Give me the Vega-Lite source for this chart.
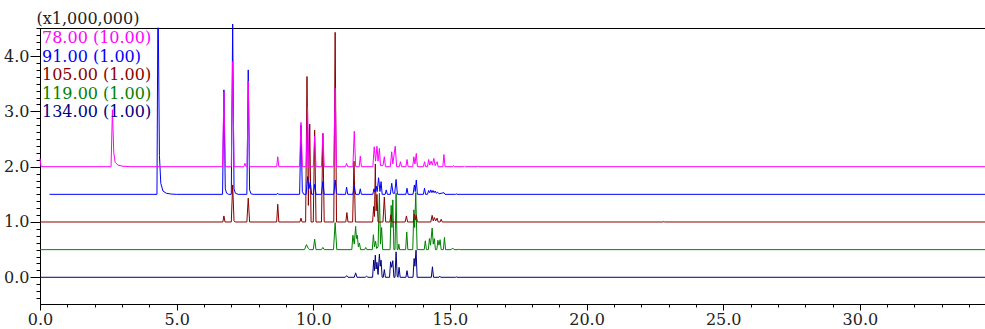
{
"$schema": "https://vega.github.io/schema/vega-lite/v6.json",
"width": 945, "height": 276,
"autosize": {"type": "none"},
"padding": {"left": 40, "top": 28, "right": 0, "bottom": 25},
"background": "white",
"config": {"view": {"stroke": "#000", "strokeWidth": 1}, "font": "DejaVu Serif"},
"data": {"values": [
{"trace":"134.00 (1.00)","t":0,"v":0},{"trace":"134.00 (1.00)","t":11.17,"v":0},{"trace":"134.00 (1.00)","t":11.22,"v":0.03},{"trace":"134.00 (1.00)","t":11.27,"v":0},{"trace":"134.00 (1.00)","t":11.5,"v":0},{"trace":"134.00 (1.00)","t":11.55,"v":0.08},{"trace":"134.00 (1.00)","t":11.6,"v":0},{"trace":"134.00 (1.00)","t":11.9,"v":0},{"trace":"134.00 (1.00)","t":11.95,"v":0.02},{"trace":"134.00 (1.00)","t":12.0,"v":0},{"trace":"134.00 (1.00)","t":12.17,"v":0},{"trace":"134.00 (1.00)","t":12.21,"v":0.31},{"trace":"134.00 (1.00)","t":12.24,"v":0.12},{"trace":"134.00 (1.00)","t":12.27,"v":0.4},{"trace":"134.00 (1.00)","t":12.3,"v":0.15},{"trace":"134.00 (1.00)","t":12.33,"v":0.27},{"trace":"134.00 (1.00)","t":12.37,"v":0.05},{"trace":"134.00 (1.00)","t":12.42,"v":0.42},{"trace":"134.00 (1.00)","t":12.45,"v":0.2},{"trace":"134.00 (1.00)","t":12.48,"v":0.31},{"trace":"134.00 (1.00)","t":12.52,"v":0},{"trace":"134.00 (1.00)","t":12.56,"v":0},{"trace":"134.00 (1.00)","t":12.6,"v":0.14},{"trace":"134.00 (1.00)","t":12.64,"v":0},{"trace":"134.00 (1.00)","t":12.79,"v":0},{"trace":"134.00 (1.00)","t":12.83,"v":0.28},{"trace":"134.00 (1.00)","t":12.87,"v":0.18},{"trace":"134.00 (1.00)","t":12.91,"v":0.3},{"trace":"134.00 (1.00)","t":12.95,"v":0},{"trace":"134.00 (1.00)","t":12.99,"v":0},{"trace":"134.00 (1.00)","t":13.03,"v":0.46},{"trace":"134.00 (1.00)","t":13.07,"v":0.02},{"trace":"134.00 (1.00)","t":13.1,"v":0},{"trace":"134.00 (1.00)","t":13.14,"v":0.18},{"trace":"134.00 (1.00)","t":13.18,"v":0},{"trace":"134.00 (1.00)","t":13.39,"v":0},{"trace":"134.00 (1.00)","t":13.43,"v":0.12},{"trace":"134.00 (1.00)","t":13.47,"v":0},{"trace":"134.00 (1.00)","t":13.65,"v":0},{"trace":"134.00 (1.00)","t":13.69,"v":0.34},{"trace":"134.00 (1.00)","t":13.72,"v":0.2},{"trace":"134.00 (1.00)","t":13.76,"v":0.49},{"trace":"134.00 (1.00)","t":13.8,"v":0},{"trace":"134.00 (1.00)","t":14.32,"v":0},{"trace":"134.00 (1.00)","t":14.36,"v":0.19},{"trace":"134.00 (1.00)","t":14.4,"v":0},{"trace":"134.00 (1.00)","t":14.6,"v":0},{"trace":"134.00 (1.00)","t":14.63,"v":0.02},{"trace":"134.00 (1.00)","t":14.66,"v":0},{"trace":"134.00 (1.00)","t":15.2,"v":0},{"trace":"134.00 (1.00)","t":15.23,"v":0.01},{"trace":"134.00 (1.00)","t":15.26,"v":0},{"trace":"134.00 (1.00)","t":34.6,"v":0},

{"trace":"119.00 (1.00)","t":0,"v":0.5},{"trace":"119.00 (1.00)","t":9.68,"v":0.5},{"trace":"119.00 (1.00)","t":9.75,"v":0.59},{"trace":"119.00 (1.00)","t":9.82,"v":0.52},{"trace":"119.00 (1.00)","t":9.87,"v":0.5},{"trace":"119.00 (1.00)","t":10.0,"v":0.5},{"trace":"119.00 (1.00)","t":10.05,"v":0.69},{"trace":"119.00 (1.00)","t":10.1,"v":0.5},{"trace":"119.00 (1.00)","t":10.3,"v":0.5},{"trace":"119.00 (1.00)","t":10.35,"v":0.54},{"trace":"119.00 (1.00)","t":10.4,"v":0.5},{"trace":"119.00 (1.00)","t":10.74,"v":0.5},{"trace":"119.00 (1.00)","t":10.8,"v":0.99},{"trace":"119.00 (1.00)","t":10.86,"v":0.5},{"trace":"119.00 (1.00)","t":11.41,"v":0.5},{"trace":"119.00 (1.00)","t":11.45,"v":0.76},{"trace":"119.00 (1.00)","t":11.5,"v":0.6},{"trace":"119.00 (1.00)","t":11.55,"v":0.92},{"trace":"119.00 (1.00)","t":11.58,"v":0.7},{"trace":"119.00 (1.00)","t":11.61,"v":0.76},{"trace":"119.00 (1.00)","t":11.65,"v":0.55},{"trace":"119.00 (1.00)","t":11.69,"v":0.62},{"trace":"119.00 (1.00)","t":11.73,"v":0.5},{"trace":"119.00 (1.00)","t":11.88,"v":0.5},{"trace":"119.00 (1.00)","t":11.92,"v":0.54},{"trace":"119.00 (1.00)","t":11.96,"v":0.5},{"trace":"119.00 (1.00)","t":12.16,"v":0.5},{"trace":"119.00 (1.00)","t":12.2,"v":0.77},{"trace":"119.00 (1.00)","t":12.24,"v":0.55},{"trace":"119.00 (1.00)","t":12.28,"v":0.65},{"trace":"119.00 (1.00)","t":12.32,"v":0.52},{"trace":"119.00 (1.00)","t":12.37,"v":0.55},{"trace":"119.00 (1.00)","t":12.42,"v":1.52},{"trace":"119.00 (1.00)","t":12.46,"v":0.6},{"trace":"119.00 (1.00)","t":12.5,"v":0.9},{"trace":"119.00 (1.00)","t":12.54,"v":0.5},{"trace":"119.00 (1.00)","t":12.81,"v":0.5},{"trace":"119.00 (1.00)","t":12.85,"v":1.3},{"trace":"119.00 (1.00)","t":12.88,"v":0.9},{"trace":"119.00 (1.00)","t":12.91,"v":1.4},{"trace":"119.00 (1.00)","t":12.95,"v":0.5},{"trace":"119.00 (1.00)","t":12.99,"v":0.5},{"trace":"119.00 (1.00)","t":13.03,"v":1.52},{"trace":"119.00 (1.00)","t":13.07,"v":0.5},{"trace":"119.00 (1.00)","t":13.1,"v":0.5},{"trace":"119.00 (1.00)","t":13.13,"v":0.6},{"trace":"119.00 (1.00)","t":13.16,"v":0.5},{"trace":"119.00 (1.00)","t":13.38,"v":0.5},{"trace":"119.00 (1.00)","t":13.42,"v":0.82},{"trace":"119.00 (1.00)","t":13.46,"v":0.5},{"trace":"119.00 (1.00)","t":13.64,"v":0.5},{"trace":"119.00 (1.00)","t":13.68,"v":1.22},{"trace":"119.00 (1.00)","t":13.71,"v":0.9},{"trace":"119.00 (1.00)","t":13.75,"v":1.53},{"trace":"119.00 (1.00)","t":13.8,"v":0.5},{"trace":"119.00 (1.00)","t":14.06,"v":0.5},{"trace":"119.00 (1.00)","t":14.1,"v":0.66},{"trace":"119.00 (1.00)","t":14.14,"v":0.5},{"trace":"119.00 (1.00)","t":14.21,"v":0.5},{"trace":"119.00 (1.00)","t":14.25,"v":0.7},{"trace":"119.00 (1.00)","t":14.29,"v":0.58},{"trace":"119.00 (1.00)","t":14.35,"v":0.89},{"trace":"119.00 (1.00)","t":14.39,"v":0.6},{"trace":"119.00 (1.00)","t":14.43,"v":0.7},{"trace":"119.00 (1.00)","t":14.47,"v":0.5},{"trace":"119.00 (1.00)","t":14.52,"v":0.5},{"trace":"119.00 (1.00)","t":14.56,"v":0.67},{"trace":"119.00 (1.00)","t":14.6,"v":0.58},{"trace":"119.00 (1.00)","t":14.64,"v":0.68},{"trace":"119.00 (1.00)","t":14.68,"v":0.5},{"trace":"119.00 (1.00)","t":14.76,"v":0.5},{"trace":"119.00 (1.00)","t":14.8,"v":0.72},{"trace":"119.00 (1.00)","t":14.84,"v":0.5},{"trace":"119.00 (1.00)","t":15.05,"v":0.5},{"trace":"119.00 (1.00)","t":15.1,"v":0.53},{"trace":"119.00 (1.00)","t":15.15,"v":0.5},{"trace":"119.00 (1.00)","t":15.3,"v":0.5},{"trace":"119.00 (1.00)","t":15.33,"v":0.51},{"trace":"119.00 (1.00)","t":15.36,"v":0.5},{"trace":"119.00 (1.00)","t":34.6,"v":0.5},

{"trace":"105.00 (1.00)","t":0,"v":1.0},{"trace":"105.00 (1.00)","t":6.69,"v":1.0},{"trace":"105.00 (1.00)","t":6.73,"v":1.11},{"trace":"105.00 (1.00)","t":6.77,"v":1.0},{"trace":"105.00 (1.00)","t":7.0,"v":1.0},{"trace":"105.00 (1.00)","t":7.05,"v":1.67},{"trace":"105.00 (1.00)","t":7.1,"v":1.02},{"trace":"105.00 (1.00)","t":7.14,"v":1.0},{"trace":"105.00 (1.00)","t":7.57,"v":1.0},{"trace":"105.00 (1.00)","t":7.62,"v":1.43},{"trace":"105.00 (1.00)","t":7.67,"v":1.0},{"trace":"105.00 (1.00)","t":8.66,"v":1.0},{"trace":"105.00 (1.00)","t":8.7,"v":1.32},{"trace":"105.00 (1.00)","t":8.74,"v":1.0},{"trace":"105.00 (1.00)","t":9.51,"v":1.0},{"trace":"105.00 (1.00)","t":9.55,"v":1.07},{"trace":"105.00 (1.00)","t":9.59,"v":1.0},{"trace":"105.00 (1.00)","t":9.72,"v":1.0},{"trace":"105.00 (1.00)","t":9.77,"v":3.63},{"trace":"105.00 (1.00)","t":9.82,"v":1.3},{"trace":"105.00 (1.00)","t":9.87,"v":2.77},{"trace":"105.00 (1.00)","t":9.92,"v":1.0},{"trace":"105.00 (1.00)","t":10.0,"v":1.0},{"trace":"105.00 (1.00)","t":10.05,"v":2.66},{"trace":"105.00 (1.00)","t":10.1,"v":1.0},{"trace":"105.00 (1.00)","t":10.3,"v":1.0},{"trace":"105.00 (1.00)","t":10.35,"v":2.6},{"trace":"105.00 (1.00)","t":10.4,"v":1.0},{"trace":"105.00 (1.00)","t":10.75,"v":1.0},{"trace":"105.00 (1.00)","t":10.8,"v":4.43},{"trace":"105.00 (1.00)","t":10.85,"v":1.0},{"trace":"105.00 (1.00)","t":11.19,"v":1.0},{"trace":"105.00 (1.00)","t":11.23,"v":1.17},{"trace":"105.00 (1.00)","t":11.27,"v":1.0},{"trace":"105.00 (1.00)","t":11.44,"v":1.0},{"trace":"105.00 (1.00)","t":11.49,"v":2.1},{"trace":"105.00 (1.00)","t":11.54,"v":1.0},{"trace":"105.00 (1.00)","t":12.17,"v":1.0},{"trace":"105.00 (1.00)","t":12.21,"v":1.28},{"trace":"105.00 (1.00)","t":12.24,"v":1.1},{"trace":"105.00 (1.00)","t":12.27,"v":2.05},{"trace":"105.00 (1.00)","t":12.3,"v":1.2},{"trace":"105.00 (1.00)","t":12.33,"v":1.5},{"trace":"105.00 (1.00)","t":12.37,"v":1.0},{"trace":"105.00 (1.00)","t":12.55,"v":1.0},{"trace":"105.00 (1.00)","t":12.6,"v":1.45},{"trace":"105.00 (1.00)","t":12.65,"v":1.0},{"trace":"105.00 (1.00)","t":12.8,"v":1.0},{"trace":"105.00 (1.00)","t":12.84,"v":1.13},{"trace":"105.00 (1.00)","t":12.88,"v":1.0},{"trace":"105.00 (1.00)","t":13.36,"v":1.0},{"trace":"105.00 (1.00)","t":13.41,"v":1.11},{"trace":"105.00 (1.00)","t":13.45,"v":1.0},{"trace":"105.00 (1.00)","t":13.66,"v":1.0},{"trace":"105.00 (1.00)","t":13.7,"v":1.14},{"trace":"105.00 (1.00)","t":13.74,"v":1.04},{"trace":"105.00 (1.00)","t":13.77,"v":1.12},{"trace":"105.00 (1.00)","t":13.81,"v":1.0},{"trace":"105.00 (1.00)","t":14.3,"v":1.0},{"trace":"105.00 (1.00)","t":14.35,"v":1.12},{"trace":"105.00 (1.00)","t":14.39,"v":1.02},{"trace":"105.00 (1.00)","t":14.43,"v":1.08},{"trace":"105.00 (1.00)","t":14.48,"v":1.02},{"trace":"105.00 (1.00)","t":14.53,"v":1.07},{"trace":"105.00 (1.00)","t":14.57,"v":1.0},{"trace":"105.00 (1.00)","t":14.64,"v":1.0},{"trace":"105.00 (1.00)","t":14.68,"v":1.05},{"trace":"105.00 (1.00)","t":14.72,"v":1.0},{"trace":"105.00 (1.00)","t":22.8,"v":1.0},{"trace":"105.00 (1.00)","t":22.83,"v":1.01},{"trace":"105.00 (1.00)","t":22.86,"v":1.0},{"trace":"105.00 (1.00)","t":34.6,"v":1.0},

{"trace":"91.00 (1.00)","t":0.35,"v":1.5},{"trace":"91.00 (1.00)","t":4.28,"v":1.5},{"trace":"91.00 (1.00)","t":4.31,"v":4.51},{"trace":"91.00 (1.00)","t":4.33,"v":4.51},{"trace":"91.00 (1.00)","t":4.37,"v":2.2},{"trace":"91.00 (1.00)","t":4.42,"v":1.7},{"trace":"91.00 (1.00)","t":4.5,"v":1.56},{"trace":"91.00 (1.00)","t":4.62,"v":1.52},{"trace":"91.00 (1.00)","t":4.8,"v":1.505},{"trace":"91.00 (1.00)","t":5.0,"v":1.5},{"trace":"91.00 (1.00)","t":6.68,"v":1.5},{"trace":"91.00 (1.00)","t":6.73,"v":3.39},{"trace":"91.00 (1.00)","t":6.78,"v":1.6},{"trace":"91.00 (1.00)","t":6.83,"v":1.52},{"trace":"91.00 (1.00)","t":6.9,"v":1.5},{"trace":"91.00 (1.00)","t":7.0,"v":1.5},{"trace":"91.00 (1.00)","t":7.05,"v":4.58},{"trace":"91.00 (1.00)","t":7.1,"v":1.6},{"trace":"91.00 (1.00)","t":7.15,"v":1.52},{"trace":"91.00 (1.00)","t":7.25,"v":1.5},{"trace":"91.00 (1.00)","t":7.57,"v":1.5},{"trace":"91.00 (1.00)","t":7.62,"v":3.75},{"trace":"91.00 (1.00)","t":7.67,"v":1.58},{"trace":"91.00 (1.00)","t":7.72,"v":1.51},{"trace":"91.00 (1.00)","t":7.8,"v":1.5},{"trace":"91.00 (1.00)","t":8.67,"v":1.5},{"trace":"91.00 (1.00)","t":8.7,"v":1.52},{"trace":"91.00 (1.00)","t":8.73,"v":1.5},{"trace":"91.00 (1.00)","t":9.5,"v":1.5},{"trace":"91.00 (1.00)","t":9.55,"v":2.75},{"trace":"91.00 (1.00)","t":9.6,"v":1.55},{"trace":"91.00 (1.00)","t":9.65,"v":1.5},{"trace":"91.00 (1.00)","t":9.74,"v":1.5},{"trace":"91.00 (1.00)","t":9.79,"v":1.82},{"trace":"91.00 (1.00)","t":9.84,"v":1.6},{"trace":"91.00 (1.00)","t":9.89,"v":1.72},{"trace":"91.00 (1.00)","t":9.94,"v":1.5},{"trace":"91.00 (1.00)","t":10.0,"v":1.5},{"trace":"91.00 (1.00)","t":10.05,"v":1.68},{"trace":"91.00 (1.00)","t":10.1,"v":1.5},{"trace":"91.00 (1.00)","t":10.3,"v":1.5},{"trace":"91.00 (1.00)","t":10.35,"v":1.73},{"trace":"91.00 (1.00)","t":10.4,"v":1.5},{"trace":"91.00 (1.00)","t":10.75,"v":1.5},{"trace":"91.00 (1.00)","t":10.8,"v":1.76},{"trace":"91.00 (1.00)","t":10.85,"v":1.52},{"trace":"91.00 (1.00)","t":10.9,"v":1.5},{"trace":"91.00 (1.00)","t":11.18,"v":1.5},{"trace":"91.00 (1.00)","t":11.22,"v":1.63},{"trace":"91.00 (1.00)","t":11.26,"v":1.5},{"trace":"91.00 (1.00)","t":11.45,"v":1.5},{"trace":"91.00 (1.00)","t":11.5,"v":1.65},{"trace":"91.00 (1.00)","t":11.55,"v":1.5},{"trace":"91.00 (1.00)","t":11.68,"v":1.5},{"trace":"91.00 (1.00)","t":11.72,"v":1.6},{"trace":"91.00 (1.00)","t":11.76,"v":1.5},{"trace":"91.00 (1.00)","t":12.18,"v":1.5},{"trace":"91.00 (1.00)","t":12.22,"v":1.6},{"trace":"91.00 (1.00)","t":12.26,"v":1.54},{"trace":"91.00 (1.00)","t":12.3,"v":1.65},{"trace":"91.00 (1.00)","t":12.34,"v":1.55},{"trace":"91.00 (1.00)","t":12.39,"v":1.8},{"trace":"91.00 (1.00)","t":12.44,"v":1.55},{"trace":"91.00 (1.00)","t":12.48,"v":1.73},{"trace":"91.00 (1.00)","t":12.52,"v":1.5},{"trace":"91.00 (1.00)","t":12.63,"v":1.5},{"trace":"91.00 (1.00)","t":12.67,"v":1.58},{"trace":"91.00 (1.00)","t":12.71,"v":1.5},{"trace":"91.00 (1.00)","t":12.82,"v":1.5},{"trace":"91.00 (1.00)","t":12.87,"v":1.7},{"trace":"91.00 (1.00)","t":12.92,"v":1.52},{"trace":"91.00 (1.00)","t":12.98,"v":1.52},{"trace":"91.00 (1.00)","t":13.03,"v":1.77},{"trace":"91.00 (1.00)","t":13.08,"v":1.5},{"trace":"91.00 (1.00)","t":13.39,"v":1.5},{"trace":"91.00 (1.00)","t":13.43,"v":1.61},{"trace":"91.00 (1.00)","t":13.47,"v":1.5},{"trace":"91.00 (1.00)","t":13.65,"v":1.5},{"trace":"91.00 (1.00)","t":13.7,"v":1.67},{"trace":"91.00 (1.00)","t":13.73,"v":1.55},{"trace":"91.00 (1.00)","t":13.77,"v":1.76},{"trace":"91.00 (1.00)","t":13.81,"v":1.5},{"trace":"91.00 (1.00)","t":14.03,"v":1.5},{"trace":"91.00 (1.00)","t":14.07,"v":1.61},{"trace":"91.00 (1.00)","t":14.11,"v":1.5},{"trace":"91.00 (1.00)","t":14.18,"v":1.5},{"trace":"91.00 (1.00)","t":14.22,"v":1.57},{"trace":"91.00 (1.00)","t":14.26,"v":1.53},{"trace":"91.00 (1.00)","t":14.3,"v":1.58},{"trace":"91.00 (1.00)","t":14.34,"v":1.53},{"trace":"91.00 (1.00)","t":14.38,"v":1.57},{"trace":"91.00 (1.00)","t":14.42,"v":1.53},{"trace":"91.00 (1.00)","t":14.46,"v":1.56},{"trace":"91.00 (1.00)","t":14.5,"v":1.52},{"trace":"91.00 (1.00)","t":14.55,"v":1.54},{"trace":"91.00 (1.00)","t":14.6,"v":1.51},{"trace":"91.00 (1.00)","t":14.78,"v":1.53},{"trace":"91.00 (1.00)","t":14.82,"v":1.5},{"trace":"91.00 (1.00)","t":15.2,"v":1.5},{"trace":"91.00 (1.00)","t":15.23,"v":1.51},{"trace":"91.00 (1.00)","t":15.26,"v":1.5},{"trace":"91.00 (1.00)","t":34.6,"v":1.5},

{"trace":"78.00 (10.00)","t":0,"v":2.15},{"trace":"78.00 (10.00)","t":0.04,"v":2.0},{"trace":"78.00 (10.00)","t":2.6,"v":2.0},{"trace":"78.00 (10.00)","t":2.65,"v":3.03},{"trace":"78.00 (10.00)","t":2.7,"v":2.25},{"trace":"78.00 (10.00)","t":2.75,"v":2.08},{"trace":"78.00 (10.00)","t":2.85,"v":2.03},{"trace":"78.00 (10.00)","t":3.0,"v":2.01},{"trace":"78.00 (10.00)","t":3.3,"v":2.0},{"trace":"78.00 (10.00)","t":6.68,"v":2.0},{"trace":"78.00 (10.00)","t":6.73,"v":3.35},{"trace":"78.00 (10.00)","t":6.78,"v":2.0},{"trace":"78.00 (10.00)","t":7.0,"v":2.0},{"trace":"78.00 (10.00)","t":7.05,"v":3.9},{"trace":"78.00 (10.00)","t":7.1,"v":2.0},{"trace":"78.00 (10.00)","t":7.46,"v":2.0},{"trace":"78.00 (10.00)","t":7.5,"v":2.06},{"trace":"78.00 (10.00)","t":7.54,"v":2.0},{"trace":"78.00 (10.00)","t":7.58,"v":2.0},{"trace":"78.00 (10.00)","t":7.62,"v":3.55},{"trace":"78.00 (10.00)","t":7.67,"v":2.0},{"trace":"78.00 (10.00)","t":8.66,"v":2.0},{"trace":"78.00 (10.00)","t":8.7,"v":2.18},{"trace":"78.00 (10.00)","t":8.74,"v":2.0},{"trace":"78.00 (10.00)","t":9.5,"v":2.0},{"trace":"78.00 (10.00)","t":9.55,"v":2.8},{"trace":"78.00 (10.00)","t":9.6,"v":2.0},{"trace":"78.00 (10.00)","t":9.74,"v":2.0},{"trace":"78.00 (10.00)","t":9.79,"v":3.08},{"trace":"78.00 (10.00)","t":9.84,"v":2.0},{"trace":"78.00 (10.00)","t":10.0,"v":2.0},{"trace":"78.00 (10.00)","t":10.05,"v":2.55},{"trace":"78.00 (10.00)","t":10.1,"v":2.0},{"trace":"78.00 (10.00)","t":10.3,"v":2.0},{"trace":"78.00 (10.00)","t":10.35,"v":2.6},{"trace":"78.00 (10.00)","t":10.4,"v":2.0},{"trace":"78.00 (10.00)","t":10.75,"v":2.0},{"trace":"78.00 (10.00)","t":10.8,"v":3.42},{"trace":"78.00 (10.00)","t":10.85,"v":2.0},{"trace":"78.00 (10.00)","t":11.18,"v":2.0},{"trace":"78.00 (10.00)","t":11.22,"v":2.06},{"trace":"78.00 (10.00)","t":11.26,"v":2.0},{"trace":"78.00 (10.00)","t":11.45,"v":2.0},{"trace":"78.00 (10.00)","t":11.5,"v":2.64},{"trace":"78.00 (10.00)","t":11.55,"v":2.0},{"trace":"78.00 (10.00)","t":11.68,"v":2.0},{"trace":"78.00 (10.00)","t":11.72,"v":2.19},{"trace":"78.00 (10.00)","t":11.76,"v":2.0},{"trace":"78.00 (10.00)","t":12.18,"v":2.0},{"trace":"78.00 (10.00)","t":12.23,"v":2.36},{"trace":"78.00 (10.00)","t":12.28,"v":2.1},{"trace":"78.00 (10.00)","t":12.33,"v":2.37},{"trace":"78.00 (10.00)","t":12.37,"v":2.1},{"trace":"78.00 (10.00)","t":12.42,"v":2.33},{"trace":"78.00 (10.00)","t":12.46,"v":2.02},{"trace":"78.00 (10.00)","t":12.55,"v":2.02},{"trace":"78.00 (10.00)","t":12.6,"v":2.18},{"trace":"78.00 (10.00)","t":12.64,"v":2.0},{"trace":"78.00 (10.00)","t":12.82,"v":2.0},{"trace":"78.00 (10.00)","t":12.87,"v":2.27},{"trace":"78.00 (10.00)","t":12.91,"v":2.05},{"trace":"78.00 (10.00)","t":13.0,"v":2.37},{"trace":"78.00 (10.00)","t":13.05,"v":2.0},{"trace":"78.00 (10.00)","t":13.15,"v":2.0},{"trace":"78.00 (10.00)","t":13.19,"v":2.09},{"trace":"78.00 (10.00)","t":13.23,"v":2.0},{"trace":"78.00 (10.00)","t":13.39,"v":2.0},{"trace":"78.00 (10.00)","t":13.43,"v":2.13},{"trace":"78.00 (10.00)","t":13.47,"v":2.0},{"trace":"78.00 (10.00)","t":13.64,"v":2.0},{"trace":"78.00 (10.00)","t":13.68,"v":2.18},{"trace":"78.00 (10.00)","t":13.72,"v":2.05},{"trace":"78.00 (10.00)","t":13.77,"v":2.24},{"trace":"78.00 (10.00)","t":13.81,"v":2.0},{"trace":"78.00 (10.00)","t":14.03,"v":2.0},{"trace":"78.00 (10.00)","t":14.07,"v":2.09},{"trace":"78.00 (10.00)","t":14.11,"v":2.0},{"trace":"78.00 (10.00)","t":14.18,"v":2.0},{"trace":"78.00 (10.00)","t":14.22,"v":2.13},{"trace":"78.00 (10.00)","t":14.26,"v":2.03},{"trace":"78.00 (10.00)","t":14.31,"v":2.1},{"trace":"78.00 (10.00)","t":14.36,"v":2.03},{"trace":"78.00 (10.00)","t":14.41,"v":2.15},{"trace":"78.00 (10.00)","t":14.46,"v":2.02},{"trace":"78.00 (10.00)","t":14.53,"v":2.09},{"trace":"78.00 (10.00)","t":14.57,"v":2.0},{"trace":"78.00 (10.00)","t":14.74,"v":2.0},{"trace":"78.00 (10.00)","t":14.78,"v":2.22},{"trace":"78.00 (10.00)","t":14.82,"v":2.0},{"trace":"78.00 (10.00)","t":15.1,"v":2.0},{"trace":"78.00 (10.00)","t":15.13,"v":2.02},{"trace":"78.00 (10.00)","t":15.16,"v":2.0},{"trace":"78.00 (10.00)","t":15.5,"v":2.0},{"trace":"78.00 (10.00)","t":15.53,"v":2.015},{"trace":"78.00 (10.00)","t":15.56,"v":2.0},{"trace":"78.00 (10.00)","t":16.0,"v":2.0},{"trace":"78.00 (10.00)","t":16.03,"v":2.01},{"trace":"78.00 (10.00)","t":16.06,"v":2.0},{"trace":"78.00 (10.00)","t":34.6,"v":2.0}
]},
"mark": {"type": "line", "strokeWidth": 1, "clip": false},
"encoding": {
  "x": {"field": "t", "type": "quantitative",
    "scale": {"domain": [0, 34.58], "nice": false, "zero": false},
    "axis": {"title": null, "grid": false,
      "values": [0,1,2,3,4,5,6,7,8,9,10,11,12,13,14,15,16,17,18,19,20,21,22,23,24,25,26,27,28,29,30,31,32,33,34],
      "labelExpr": "datum.value % 5 === 0 ? format(datum.value, '.1f') : ''",
      "tickSize": {"condition": {"test": "datum.value % 5 === 0", "value": 6}, "value": 3},
      "domainColor": "#000", "tickColor": "#000", "labelColor": "#222",
      "labelFont": "DejaVu Serif", "labelFontSize": 16, "labelPadding": 1,
      "labelOverlap": false, "labelFlush": false, "labelBound": false}},
  "y": {"field": "v", "type": "quantitative",
    "scale": {"domain": [-0.483, 4.508], "nice": false, "zero": false},
    "axis": {"grid": false,
      "values": [-0.375,-0.25,-0.125,0,0.125,0.25,0.375,0.5,0.625,0.75,0.875,1,1.125,1.25,1.375,1.5,1.625,1.75,1.875,2,2.125,2.25,2.375,2.5,2.625,2.75,2.875,3,3.125,3.25,3.375,3.5,3.625,3.75,3.875,4,4.125,4.25,4.375,4.5],
      "labelExpr": "datum.value % 1 === 0 ? format(datum.value, '.1f') : ''",
      "tickSize": {"condition": {"test": "datum.value % 1 === 0", "value": 10}, "value": 4},
      "domainColor": "#000", "tickColor": "#000", "labelColor": "#222",
      "labelFont": "DejaVu Serif", "labelFontSize": 16, "labelPadding": 1,
      "labelOverlap": false, "labelFlush": false, "labelBound": false,
      "title": "(x1,000,000)", "titleAngle": 0, "titleAlign": "left", "titleBaseline": "middle",
      "titleX": -4, "titleY": -10, "titleFont": "DejaVu Serif", "titleFontSize": 16,
      "titleFontWeight": "normal", "titleColor": "#222"}},
  "color": {"field": "trace", "type": "nominal",
    "scale": {"domain": ["78.00 (10.00)", "91.00 (1.00)", "105.00 (1.00)", "119.00 (1.00)", "134.00 (1.00)"],
              "range": ["#FF00FF", "#0000FF", "#8B0000", "#008000", "#000080"]},
    "legend": {"orient": "none", "legendX": -14, "legendY": 2, "title": null, "padding": 0,
      "symbolSize": 0, "symbolStrokeWidth": 0, "symbolOpacity": 0, "labelOffset": 0,
      "labelFont": "DejaVu Serif", "labelFontSize": 16, "rowPadding": 2.5, "labelLimit": 300,
      "encode": {"labels": {"update": {"fill": {"scale": "color", "field": "value"}}}}}}
}
}
